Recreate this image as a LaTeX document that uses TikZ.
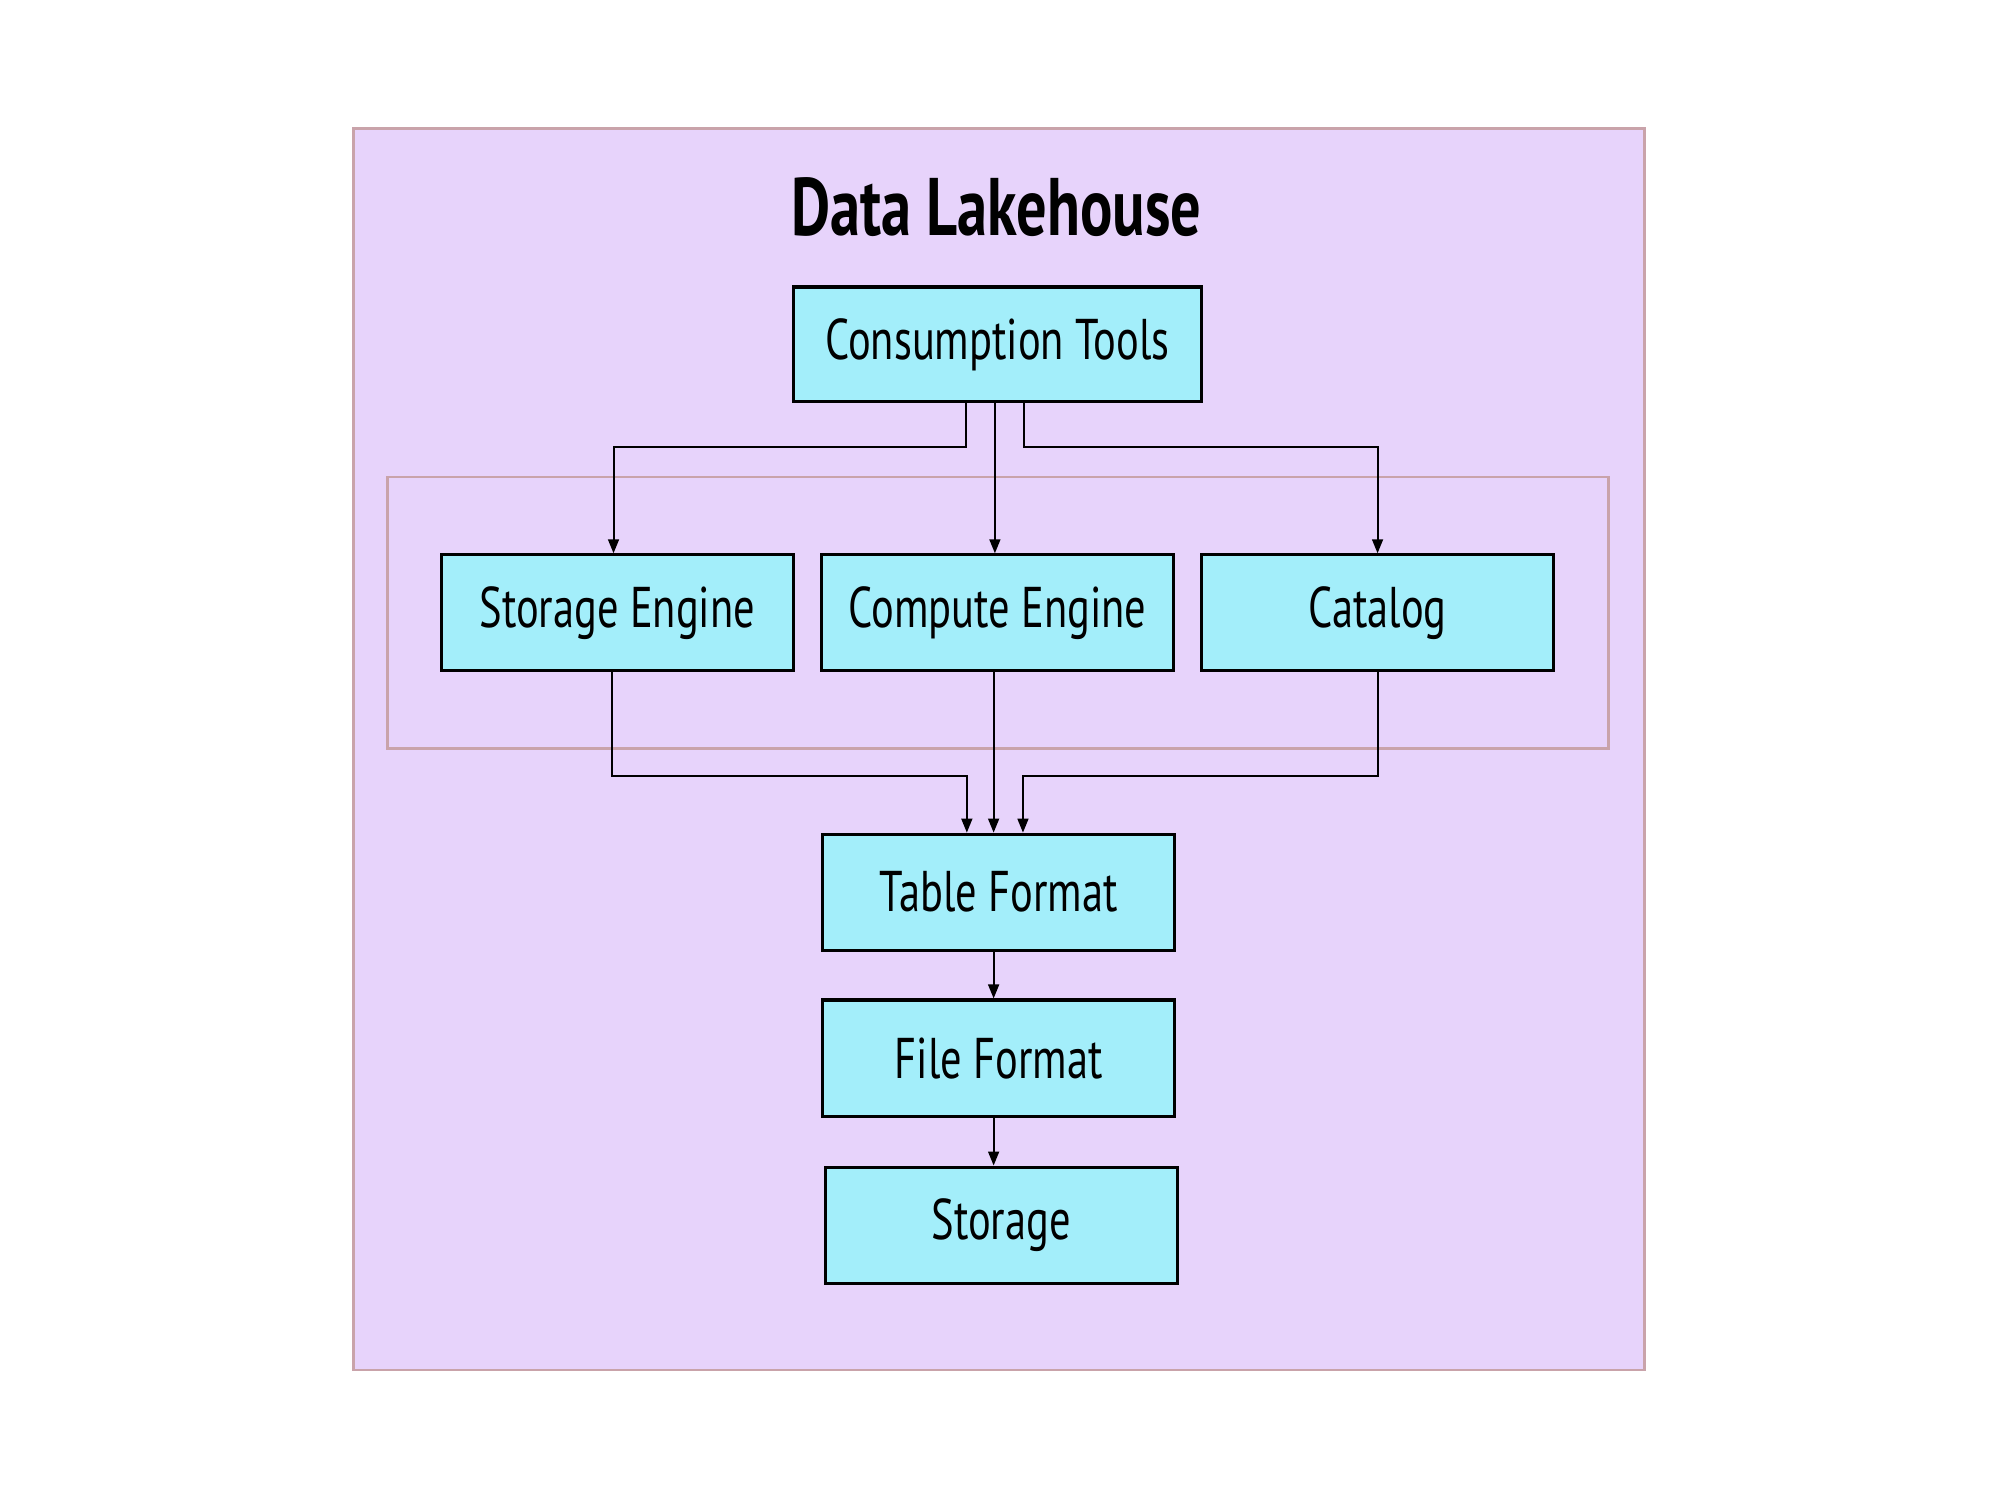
\documentclass[tikz,border=0pt]{standalone}
\usepackage{fontspec}
\setmainfont{PT Sans}[FakeStretch=0.74]
\usetikzlibrary{arrows.meta}
\definecolor{lav}{HTML}{E7D3FB}
\definecolor{frame}{HTML}{C9A3AA}
\definecolor{cyanbox}{HTML}{A3EEFA}
\tikzset{
  blk/.style={draw=black, line width=2.4pt, fill=cyanbox, minimum width=276pt, minimum height=91pt, inner sep=0pt, font=\fontsize{45}{48}\selectfont},
  conn/.style={draw=black, line width=1.6pt, -{Triangle[length=11pt,width=8.5pt]}},
}
\begin{document}
\begin{tikzpicture}[x=1pt,y=-1pt]
\useasboundingbox (0,0) rectangle (1568,1176);
\fill[white] (0,0) rectangle (1568,1176);
\draw[frame, fill=lav, line width=2.2pt] (277,101) rectangle (1289,1074);
\draw[frame, line width=2.2pt] (304,374) rectangle (1261,587);
\node[font=\fontsize{64}{68}\selectfont\bfseries] (title) at (781,162) {Data Lakehouse};
\node[blk, minimum width=320pt, minimum height=90pt] (ct) at (782,270) {Consumption Tools};
\node[blk] (se) at (484,480.5) {Storage Engine};
\node[blk] (ce) at (782,480.5) {Compute Engine};
\node[blk] (cat) at (1080,480.5) {Catalog};
\node[blk] (tf) at (783,699.5) {Table Format};
\node[blk] (ff) at (783,829.5) {File Format};
\node[blk] (st) at (785,960.5) {Storage};
\draw[conn] ([xshift=-25pt]ct.south) -- ++(0,34) -| ([xshift=-3pt]se.north);
\draw[conn] ([xshift=-2pt]ct.south) -- ([xshift=-2pt]ct.south |- ce.north);
\draw[conn] ([xshift=21pt]ct.south) -- ++(0,34) -| (cat.north);
\draw[conn] ([xshift=-4pt]se.south) -- ++(0,81) -| ([xshift=-25pt]tf.north);
\draw[conn] ([xshift=-3pt]ce.south) -- ([xshift=-3pt]ce.south |- tf.north);
\draw[conn] (cat.south) -- ++(0,81) -| ([xshift=19pt]tf.north);
\draw[conn] ([xshift=-4pt]tf.south) -- ([xshift=-4pt]tf.south |- ff.north);
\draw[conn] ([xshift=-4pt]ff.south) -- ([xshift=-6pt]st.north);
\end{tikzpicture}
\end{document}
